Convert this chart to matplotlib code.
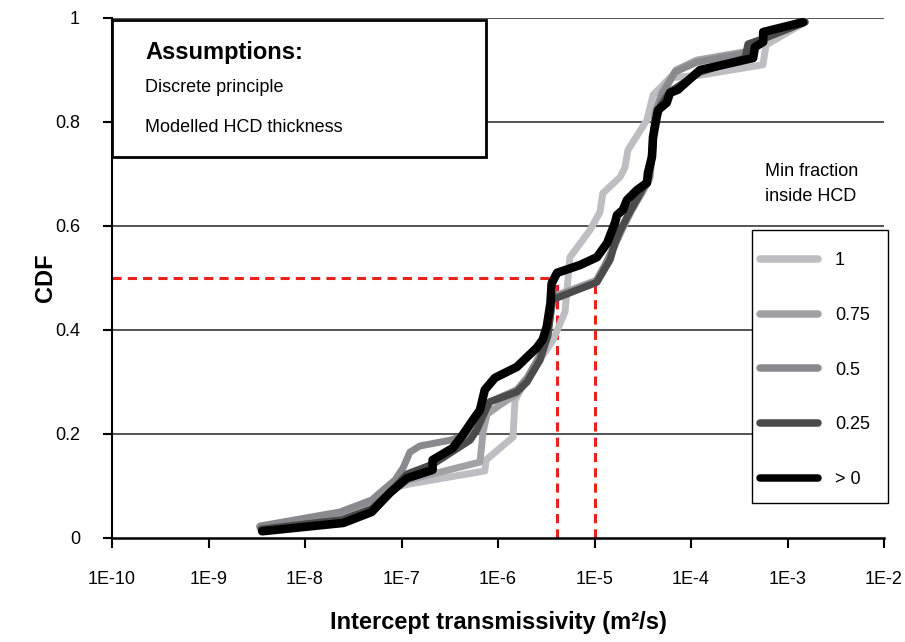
import matplotlib
matplotlib.use("Agg")
import matplotlib.pyplot as plt
from matplotlib.patches import Rectangle

plt.rcParams['font.family'] = ['Liberation Sans', 'DejaVu Sans']

# intercept transmissivity (m2/s) and CDF for each min fraction inside HCD
t_1 = [3.4e-9, 2.3e-8, 4.9e-8, 7.97e-8, 1.22e-7, 7.3e-7, 7.5e-7, 1.43e-6, 1.5e-6, 1.82e-6,
       2.72e-6, 3.72e-6, 4.95e-6, 5.19e-6, 5.57e-6, 8.97e-6, 1.14e-5, 1.22e-5, 1.84e-5, 2.07e-5,
       2.22e-5, 3.5e-5, 4.04e-5, 6.05e-5, 1.24e-4, 5.57e-4, 5.98e-4, 1.52e-3]
cdf_1 = [0.021, 0.044, 0.069, 0.096, 0.104, 0.129, 0.15, 0.194, 0.265, 0.294,
         0.342, 0.381, 0.435, 0.477, 0.54, 0.592, 0.627, 0.663, 0.694, 0.713,
         0.746, 0.804, 0.852, 0.885, 0.89, 0.91, 0.948, 0.992]

t_075 = [3.4e-9, 2.3e-8, 4.9e-8, 7.97e-8, 1.22e-7, 6.5e-7, 7.0e-7, 7.7e-7, 1.05e-6, 1.57e-6,
         2.0e-6, 2.86e-6, 3.46e-6, 3.8e-6, 1.06e-5, 1.35e-5, 1.63e-5, 1.97e-5, 2.45e-5, 3.1e-5,
         3.76e-5, 4.04e-5, 4.24e-5, 5.0e-5, 7.0e-5, 1.15e-4, 3.63e-4, 4.28e-4, 6.28e-4, 1.52e-3]
cdf_075 = [0.021, 0.046, 0.069, 0.096, 0.112, 0.146, 0.204, 0.238, 0.256, 0.277,
           0.304, 0.358, 0.423, 0.465, 0.496, 0.531, 0.563, 0.596, 0.631, 0.663,
           0.692, 0.75, 0.819, 0.858, 0.9, 0.919, 0.935, 0.95, 0.965, 0.994]

t_05 = [3.4e-9, 2.3e-8, 4.9e-8, 8.6e-8, 1.04e-7, 1.22e-7, 1.55e-7, 3.18e-7, 5.13e-7, 6.5e-7,
        8.26e-7, 1.57e-6, 2.0e-6, 2.86e-6, 3.46e-6, 3.72e-6, 1.01e-5, 1.28e-5, 1.56e-5, 1.84e-5,
        2.33e-5, 2.96e-5, 3.58e-5, 3.94e-5, 4.24e-5, 5.0e-5, 6.82e-5, 1.15e-4, 3.8e-4, 4.28e-4,
        6.13e-4, 1.52e-3]
cdf_05 = [0.023, 0.05, 0.073, 0.112, 0.135, 0.165, 0.177, 0.188, 0.2, 0.227,
          0.262, 0.285, 0.308, 0.358, 0.419, 0.462, 0.49, 0.525, 0.558, 0.587,
          0.627, 0.66, 0.688, 0.746, 0.813, 0.852, 0.896, 0.915, 0.933, 0.948,
          0.963, 0.992]

t_025 = [3.5e-9, 2.4e-8, 4.9e-8, 7.6e-8, 1.14e-7, 2.12e-7, 5.13e-7, 6.05e-7, 7.7e-7, 8.26e-7,
         1.57e-6, 2.0e-6, 2.72e-6, 3.3e-6, 3.63e-6, 1.06e-5, 1.45e-5, 1.63e-5, 1.8e-5, 2.17e-5,
         2.96e-5, 3.67e-5, 3.94e-5, 4.24e-5, 4.89e-5, 6.05e-5, 1.24e-4, 3.63e-4, 3.9e-4, 5.98e-4,
         1.52e-3]
cdf_025 = [0.017, 0.035, 0.056, 0.088, 0.123, 0.142, 0.188, 0.208, 0.252, 0.262,
           0.281, 0.3, 0.342, 0.39, 0.458, 0.492, 0.535, 0.567, 0.587, 0.617,
           0.662, 0.696, 0.737, 0.8, 0.833, 0.858, 0.896, 0.923, 0.95, 0.962,
           0.992]

t_gt0 = [3.6e-9, 2.5e-8, 4.9e-8, 7.6e-8, 1.14e-7, 2.1e-7, 2.1e-7, 3.4e-7, 4.3e-7, 5.5e-7,
         6.5e-7, 7.3e-7, 9.3e-7, 1.57e-6, 2.0e-6, 2.5e-6, 2.9e-6, 3.2e-6, 3.5e-6, 3.6e-6,
         4.1e-6, 7.1e-6, 1.06e-5, 1.35e-5, 1.63e-5, 1.71e-5, 1.97e-5, 2.17e-5, 2.75e-5, 3.5e-5,
         3.58e-5, 3.94e-5, 4.04e-5, 4.55e-5, 5.6e-5, 6.05e-5, 7.3e-5, 1.24e-4, 4.4e-4, 4.6e-4,
         5.6e-4, 5.6e-4, 1.45e-3]
cdf_gt0 = [0.013, 0.029, 0.05, 0.087, 0.115, 0.131, 0.15, 0.173, 0.198, 0.227,
           0.246, 0.285, 0.308, 0.329, 0.348, 0.365, 0.381, 0.406, 0.452, 0.49,
           0.51, 0.525, 0.54, 0.567, 0.606, 0.621, 0.631, 0.65, 0.669, 0.683,
           0.702, 0.733, 0.771, 0.823, 0.837, 0.856, 0.862, 0.9, 0.923, 0.944,
           0.954, 0.973, 0.992]

labels = ["1", "0.75", "0.5", "0.25", "> 0"]
colors = ["#bebec2", "#a2a2a6", "#8a8a8e", "#4b4b4b", "#000000"]
widths = [5.0, 5.0, 5.0, 5.2, 6.2]

# median transmissivity markers
t_median = [4.1e-6, 1e-5]
cdf_median = 0.5

x_ticks = [1e-10, 1e-9, 1e-8, 1e-7, 1e-6, 1e-5, 1e-4, 1e-3, 1e-2]
x_ticklabels = ["1E-10", "1E-9", "1E-8", "1E-7", "1E-6", "1E-5", "1E-4", "1E-3", "1E-2"]
y_ticks = [0, 0.2, 0.4, 0.6, 0.8, 1]
y_ticklabels = ["0", "0.2", "0.4", "0.6", "0.8", "1"]

fig = plt.figure(figsize=(9.05, 6.42), dpi=100)
ax = fig.add_axes([112/905, 104/642, 772/905, 520/642])

ax.set_xscale("log")
ax.set_xlim(1e-10, 1e-2)
ax.set_ylim(0, 1)

for yv in y_ticks[1:]:
    ax.axhline(yv, color="#262626", lw=1.1, zorder=1)

red = "#e8231e"
ax.plot([1e-10, t_median[0]], [cdf_median, cdf_median], color=red, lw=2.2,
        ls=(0, (3, 2)), zorder=2, clip_on=False)
for tm in t_median:
    ax.plot([tm, tm], [0, cdf_median], color=red, lw=2.2, ls=(0, (3, 2)), zorder=2)

series = [(t_1, cdf_1), (t_075, cdf_075), (t_05, cdf_05), (t_025, cdf_025), (t_gt0, cdf_gt0)]
handles = []
for (t, c), lab, col, w in zip(series, labels, colors, widths):
    h, = ax.plot(t, c, color=col, lw=w, label=lab, solid_capstyle="round",
                 solid_joinstyle="round", zorder=3)
    handles.append(h)

ax.set_xticks(x_ticks)
ax.set_xticklabels(x_ticklabels)
ax.minorticks_off()
ax.set_yticks(y_ticks)
ax.set_yticklabels(y_ticklabels)
ax.tick_params(axis="x", direction="out", length=7, width=1.5, pad=17, labelsize=13)
ax.tick_params(axis="y", direction="out", length=6.5, width=1.5, pad=16.5, labelsize=13)

for s in ["top", "right"]:
    ax.spines[s].set_visible(False)
ax.spines["left"].set_linewidth(1.5)
ax.spines["bottom"].set_linewidth(1.8)
ax.spines["bottom"].set_zorder(4)

fig.text(498/905, 1 - 622/642, "Intercept transmissivity (m²/s)", ha="center", va="center",
         fontsize=17, fontweight="bold")
fig.text(45/905, 1 - 278/642, "CDF", ha="center", va="center", rotation=90,
         fontsize=17, fontweight="bold")

# assumptions box
fig.patches.append(Rectangle((112/905, 1 - 157/642), 374/905, 137/642, transform=fig.transFigure,
                             facecolor="white", edgecolor="black", lw=2.0, zorder=5))
fig.text(145/905, 1 - 52/642, "Assumptions:", fontsize=17, fontweight="bold", va="center", zorder=6)
fig.text(145/905, 1 - 88/642, "Discrete principle", fontsize=13, va="center", zorder=6)
fig.text(145/905, 1 - 127/642, "Modelled HCD thickness", fontsize=13, va="center", zorder=6)

fig.text(765/905, 1 - 184/642, "Min fraction\ninside HCD", fontsize=13, va="center",
         linespacing=1.65)

# legend frame drawn separately so the entries can sit freely inside it
fig.patches.append(Rectangle((752/905, 1 - 503/642), 136/905, 273/642, transform=fig.transFigure,
                             facecolor="white", edgecolor="black", lw=1.0, zorder=4))
leg = fig.legend(handles=handles, labels=labels, loc="upper left",
                 bbox_to_anchor=(752/905, 1 - 244/642), bbox_transform=fig.transFigure,
                 borderaxespad=0, frameon=False, fontsize=13, handlelength=3.2,
                 handletextpad=0.94, labelspacing=2.09, borderpad=0.45)
leg.set_zorder(6)
for line in leg.get_lines():
    line.set_solid_capstyle("round")
    line.set_linewidth(5.4)

fig.savefig("out.png", dpi=100)
